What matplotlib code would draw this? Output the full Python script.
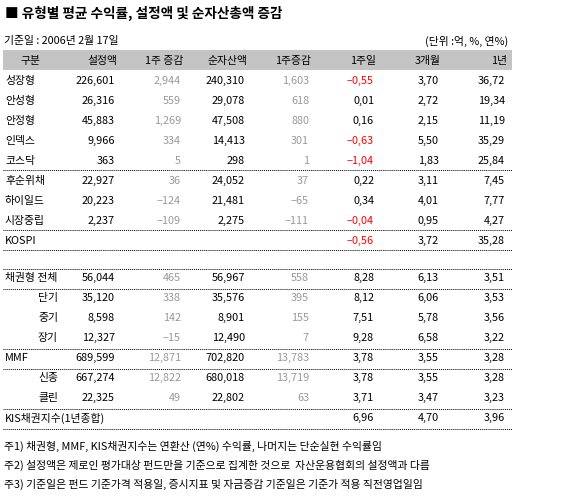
import matplotlib
matplotlib.use("Agg")
import matplotlib.pyplot as plt
from matplotlib.lines import Line2D
from matplotlib.patches import Rectangle

plt.rcParams['font.family'] = ['Noto Sans CJK KR', 'DejaVu Sans']

title = "■ 유형별 평균 수익률, 설정액 및 순자산총액 증감"
base_date = "기준일 : 2006년 2월 17일"
unit = "(단위 :억, %, 연%)"
headers = ["구분", "설정액", "1주 증감", "순자산액", "1주증감", "1주일", "3개월", "1년"]

names = ["성장형", "안성형", "안정형", "인덱스", "코스닥", "후순위채", "하이일드", "시장중립", "KOSPI",
         "채권형 전체", "단기", "중기", "장기", "MMF", "신종", "클린", "KIS채권지수(1년종합)"]
indent = [0, 0, 0, 0, 0, 0, 0, 0, 0, 0, 1, 1, 1, 0, 1, 1, 0]
setup = ["226,601", "26,316", "45,883", "9,966", "363", "22,927", "20,223", "2,237", "",
         "56,044", "35,120", "8,598", "12,327", "689,599", "667,274", "22,325", ""]
setup_chg = ["2,944", "559", "1,269", "334", "5", "36", "-124", "-109", "",
             "465", "338", "142", "-15", "12,871", "12,822", "49", ""]
net = ["240,310", "29,078", "47,508", "14,413", "298", "24,052", "21,481", "2,275", "",
       "56,967", "35,576", "8,901", "12,490", "702,820", "680,018", "22,802", ""]
net_chg = ["1,603", "618", "880", "301", "1", "37", "-65", "-111", "",
           "558", "395", "155", "7", "13,783", "13,719", "63", ""]
week = ["-0,55", "0,01", "0,16", "-0,63", "-1,04", "0,22", "0,34", "-0,04", "-0,56",
        "8,28", "8,12", "7,51", "9,28", "3,78", "3,78", "3,71", "6,96"]
month3 = ["3,70", "2,72", "2,15", "5,50", "1,83", "3,11", "4,01", "0,95", "3,72",
          "6,13", "6,06", "5,78", "6,58", "3,55", "3,55", "3,47", "4,70"]
year1 = ["36,72", "19,34", "11,19", "35,29", "25,84", "7,45", "7,77", "4,27", "35,28",
         "3,51", "3,53", "3,56", "3,22", "3,28", "3,28", "3,23", "3,96"]
notes = ["주1) 채권형, MMF, KIS채권지수는 연환산 (연%) 수익률, 나머지는 단순실현 수익률임",
         "주2) 설정액은 제로인 평가대상 펀드만을 기준으로 집계한 것으로  자산운용협회의 설정액과 다름",
         "주3) 기준일은 펀드 기준가격 적용일, 증시지표 및 자금증감 기준일은 기준가 적용 직전영업일임"]

W, H = 580, 496
fig = plt.figure(figsize=(W/100, H/100), dpi=100)
ax = fig.add_axes([0, 0, 1, 1])
ax.set_xlim(0, W); ax.set_ylim(H, 0); ax.axis('off')
fs = 7.8

ax.text(5, 13, title, fontsize=9.8, fontweight='bold', va='center')
ax.text(4, 41, base_date, fontsize=fs, va='center')
ax.text(508, 41, unit, fontsize=fs, va='center', ha='right')

ax.add_patch(Rectangle((3, 50), 509, 20, color='#c4c4c4', lw=0))
col_right = [117, 183, 247, 311, 376, 441, 507]
ax.text(30, 61, headers[0], fontsize=fs, va='center', ha='center')
for h, x in zip(headers[1:], col_right):
    ax.text(x, 61, h, fontsize=fs, va='center', ha='right')

row_y = [81, 101, 121, 141, 161, 181, 201, 221, 241,
         278, 298, 318, 338, 358, 378, 398, 418]
seps = [170, 230, 250, 269, 289, 349, 369, 409, 429]
for y in seps:
    ax.add_line(Line2D([3, 512], [y, y], color='black', lw=0.7, ls=(0, (1, 1))))

cols = [setup, setup_chg, net, net_chg, week, month3, year1]
colors = ['black', '#999999', 'black', '#999999', None, 'black', 'black']
for i, y in enumerate(row_y):
    ax.text(5 + 33*indent[i], y, names[i], fontsize=fs, va='center')
    for j, col in enumerate(cols):
        v = col[i]
        if not v:
            continue
        c = colors[j]
        if c is None:
            c = 'red' if v.startswith('-') else 'black'
        ax.text(col_right[j] - 2, y, v.replace('-', '−'), fontsize=fs, va='center', ha='right', color=c)

for k, n in enumerate(notes):
    ax.text(4, 446 + 19*k, n, fontsize=fs, va='center')

fig.savefig("out.png", dpi=100)
